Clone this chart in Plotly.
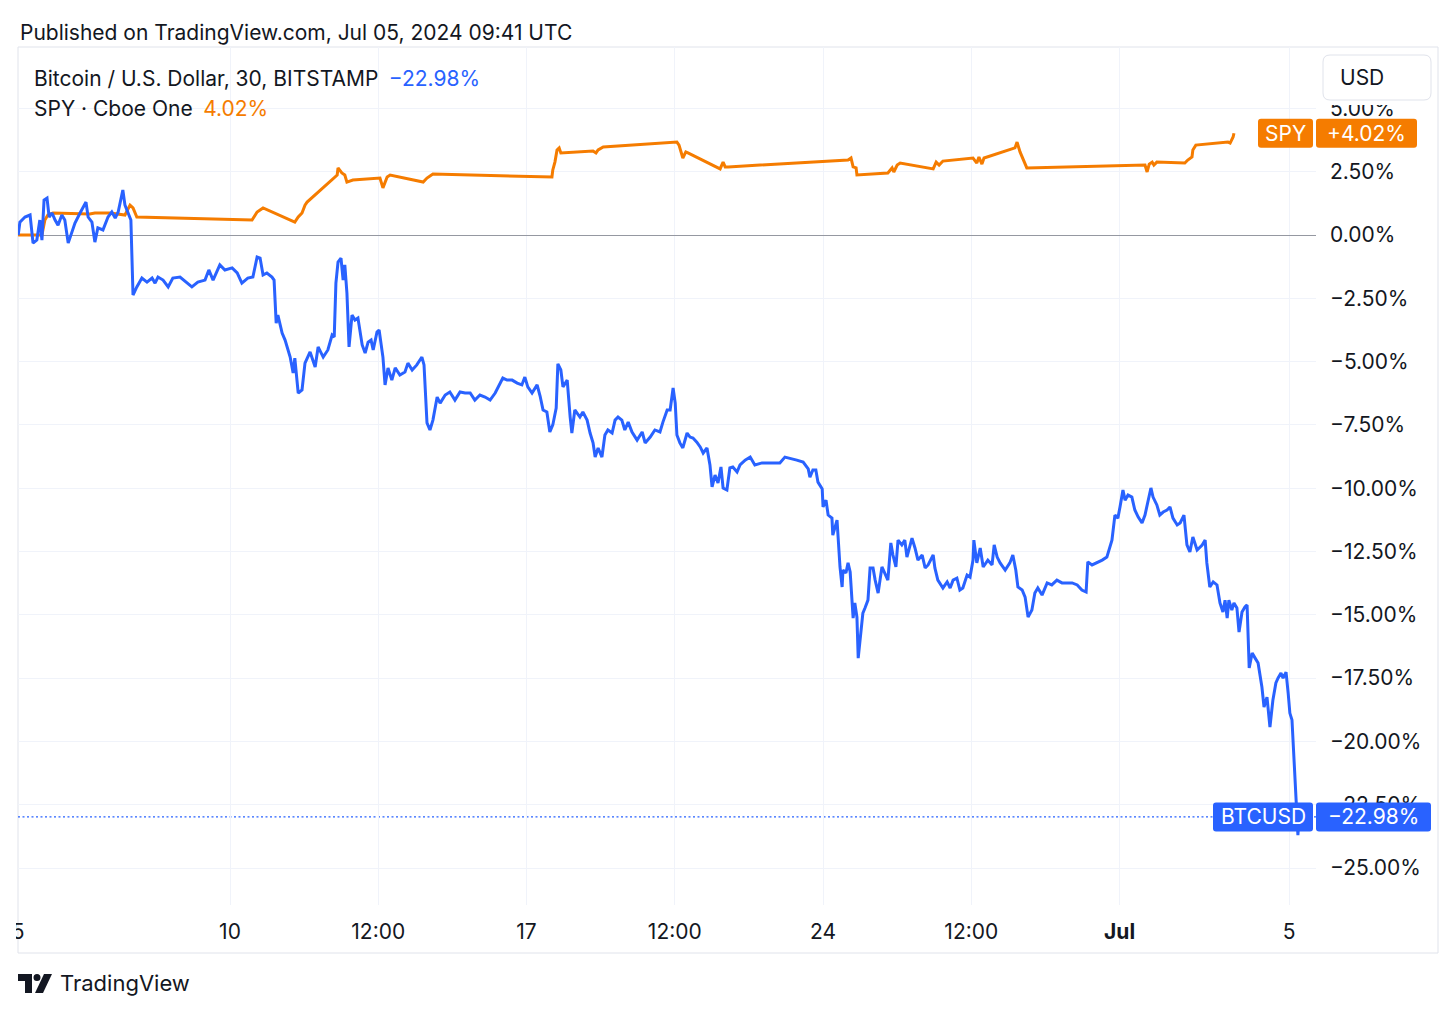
import plotly.graph_objects as go
from datetime import datetime, timedelta

# ---------------- data (time in days since 2024-06-05 00:00 UTC, value in % change) ----------------
BASE = datetime(2024, 6, 5)

btc_days = [0.00, 0.04, 0.16, 0.28, 0.35, 0.44, 0.51, 0.56, 0.61, 0.68, 0.73, 0.80, 0.87, 0.94, 1.03, 1.10,
            1.18, 1.34, 1.46, 1.60, 1.65, 1.74, 1.81, 1.88, 2.00, 2.12, 2.21, 2.29, 2.36, 2.47, 2.52, 2.59,
            2.66, 2.71, 2.80, 2.92, 3.04, 3.16, 3.23, 3.30, 3.42, 3.54, 3.65, 3.82, 3.98, 4.10, 4.24, 4.41,
            4.50, 4.60, 4.76, 4.88, 5.05, 5.17, 5.28, 5.42, 5.54, 5.64, 5.71, 5.78, 5.87, 5.99, 6.04, 6.09,
            6.13, 6.23, 6.30, 6.42, 6.49, 6.53, 6.61, 6.70, 6.77, 6.89, 7.01, 7.08, 7.20, 7.31, 7.41, 7.46,
            7.50, 7.55, 7.62, 7.67, 7.71, 7.76, 7.81, 7.88, 7.95, 8.02, 8.12, 8.19, 8.26, 8.33, 8.38, 8.47,
            8.52, 8.61, 8.66, 8.73, 8.82, 8.90, 9.01, 9.13, 9.20, 9.30, 9.41, 9.53, 9.58, 9.65, 9.72, 9.79,
            9.89, 9.96, 10.08, 10.19, 10.31, 10.43, 10.55, 10.67, 10.78, 10.90, 11.02, 11.14, 11.26, 11.37,
            11.44, 11.54, 11.66, 11.78, 11.89, 11.96, 12.03, 12.13, 12.25, 12.32, 12.39, 12.48, 12.55, 12.62,
            12.70, 12.74, 12.81, 12.86, 12.96, 13.03, 13.07, 13.14, 13.19, 13.26, 13.33, 13.43, 13.50, 13.57,
            13.62, 13.69, 13.78, 13.85, 13.92, 14.02, 14.09, 14.16, 14.25, 14.32, 14.40, 14.49, 14.61, 14.73,
            14.80, 14.92, 15.03, 15.15, 15.22, 15.32, 15.39, 15.43, 15.46, 15.51, 15.55, 15.62, 15.69, 15.79,
            15.86, 15.93, 16.02, 16.10, 16.17, 16.26, 16.33, 16.38, 16.45, 16.52, 16.59, 16.64, 16.73, 16.80,
            16.87, 16.97, 17.04, 17.16, 17.28, 17.39, 17.56, 17.75, 17.98, 18.10, 18.22, 18.38, 18.53, 18.65,
            18.69, 18.76, 18.83, 18.88, 18.98, 19.00, 19.07, 19.12, 19.21, 19.23, 19.33, 19.35, 19.40, 19.45,
            19.47, 19.54, 19.59, 19.64, 19.68, 19.71, 19.75, 19.80, 19.83, 19.90, 19.94, 19.99, 20.06, 20.11,
            20.18, 20.23, 20.30, 20.39, 20.46, 20.53, 20.60, 20.65, 20.72, 20.77, 20.86, 20.93, 20.98, 21.05,
            21.10, 21.17, 21.24, 21.34, 21.41, 21.48, 21.60, 21.64, 21.71, 21.83, 21.93, 22.00, 22.07, 22.16,
            22.23, 22.30, 22.40, 22.47, 22.54, 22.56, 22.63, 22.71, 22.78, 22.89, 22.99, 23.04, 23.11, 23.18,
            23.30, 23.41, 23.48, 23.55, 23.60, 23.70, 23.77, 23.84, 23.93, 24.00, 24.07, 24.17, 24.29, 24.40,
            24.52, 24.64, 24.76, 24.88, 25.00, 25.11, 25.21, 25.25, 25.35, 25.47, 25.59, 25.70, 25.77, 25.82,
            25.89, 25.96, 26.01, 26.08, 26.13, 26.20, 26.29, 26.36, 26.44, 26.53, 26.60, 26.67, 26.74, 26.79,
            26.88, 26.95, 27.03, 27.12, 27.19, 27.26, 27.36, 27.43, 27.52, 27.59, 27.66, 27.73, 27.83, 27.95,
            28.02, 28.06, 28.13, 28.21, 28.30, 28.37, 28.44, 28.49, 28.54, 28.58, 28.65, 28.70, 28.77, 28.82,
            28.89, 28.96, 29.01, 29.06, 29.13, 29.20, 29.27, 29.36, 29.41, 29.48, 29.55, 29.62, 29.69, 29.74,
            29.81, 29.86, 29.93, 29.98, 30.02, 30.07, 30.14, 30.19, 30.21, 30.24]

btc_pct = [0.00, 0.51, 0.71, 0.79, -0.32, -0.20, 0.59, -0.20, 1.38, 1.46, 0.71, 0.87, 0.59, 0.39, 0.79, 0.59,
           -0.32, 0.47, 0.87, 1.30, 0.71, 0.51, -0.28, 0.28, 0.20, 0.71, 0.91, 0.67, 0.91, 1.78, 1.18, 0.91,
           0.59, -2.37, -2.05, -1.70, -1.86, -1.70, -1.90, -1.66, -1.78, -2.05, -1.70, -1.66, -1.90, -2.05, -1.86, -1.78,
           -1.38, -1.78, -1.18, -1.38, -1.30, -1.50, -1.90, -1.70, -1.66, -0.87, -0.91, -1.58, -1.50, -1.66, -1.78, -3.48,
           -3.16, -3.87, -4.15, -4.82, -5.45, -4.86, -6.24, -6.12, -5.06, -4.62, -5.21, -4.42, -4.82, -4.54, -3.95, -4.03,
           -1.90, -1.07, -0.91, -1.78, -1.18, -2.29, -4.42, -3.16, -3.36, -3.28, -4.34, -4.66, -4.23, -4.15, -4.54, -3.83,
           -3.75, -4.82, -5.92, -5.25, -5.73, -5.25, -5.53, -5.41, -5.06, -5.33, -5.13, -4.82, -5.13, -7.42, -7.70, -7.31,
           -6.40, -6.64, -6.32, -6.20, -6.52, -6.20, -6.24, -6.24, -6.52, -6.32, -6.40, -6.52, -6.24, -5.85,
           -5.65, -5.73, -5.73, -5.85, -5.92, -5.61, -6.00, -6.24, -5.92, -6.36, -6.91, -6.99, -7.78, -7.50,
           -6.83, -5.09, -5.33, -6.00, -5.73, -7.19, -7.82, -6.91, -7.03, -7.19, -6.99, -7.31, -7.82, -8.21,
           -8.77, -8.41, -8.77, -7.90, -7.70, -7.82, -7.31, -7.19, -7.31, -7.70, -7.39, -7.78, -8.10, -7.78,
           -8.21, -7.98, -7.70, -7.78, -7.39, -6.91, -6.91, -6.40, -6.04, -6.64, -7.90, -8.21, -8.41, -7.82,
           -7.98, -8.02, -8.18, -8.37, -8.61, -8.41, -9.08, -9.95, -9.48, -9.79, -9.16, -9.99, -10.07, -9.20,
           -9.16, -9.36, -9.08, -8.89, -8.77, -9.08, -9.00, -9.00, -9.00, -8.77, -8.81, -8.89, -8.97, -9.24,
           -9.56, -9.28, -9.28, -9.76, -10.03, -10.74, -10.47, -11.06, -11.18, -11.85, -11.26, -11.93, -13.11, -13.90,
           -13.23, -13.35, -12.95, -13.31, -14.42, -15.13, -14.53, -15.09, -16.71, -15.40, -14.93, -14.73, -14.42, -13.15,
           -13.15, -13.63, -14.14, -13.11, -13.35, -13.63, -12.16, -12.64, -13.11, -12.05, -12.24, -12.05, -12.72, -12.24,
           -11.97, -12.36, -12.84, -12.64, -13.15, -13.03, -12.64, -13.15, -13.63, -13.94, -13.70, -13.94, -13.63, -13.55,
           -14.02, -13.94, -13.43, -13.51, -12.84, -12.05, -12.95, -12.36, -13.11, -12.84, -13.03, -12.24, -12.72, -12.95,
           -13.23, -12.95, -12.64, -13.23, -13.90, -14.02, -14.30, -15.09, -14.81, -14.14, -13.94, -14.22, -13.74, -13.82,
           -13.63, -13.74, -13.74, -13.74, -13.82, -14.02, -14.10, -12.91, -13.03, -12.95, -12.84, -12.72, -12.32, -12.05,
           -11.06, -11.18, -10.74, -10.07, -10.47, -10.27, -10.35, -10.86, -11.14, -11.37, -11.06, -10.58, -9.99, -10.35,
           -10.66, -11.06, -10.94, -10.86, -10.74, -11.18, -11.45, -11.37, -11.06, -12.24, -12.52, -11.93, -12.44, -12.24,
           -12.05, -12.95, -13.90, -13.70, -13.82, -14.53, -14.89, -14.42, -15.13, -14.42, -14.81, -14.53, -14.73, -15.68,
           -14.89, -14.69, -14.61, -17.10, -16.51, -16.71, -16.90, -17.85, -18.64, -18.25, -19.43, -18.36, -17.69, -17.50,
           -17.30, -17.50, -17.26, -18.09, -18.88, -19.15, -21.52, -22.83, -23.70, -22.98]

spy_days = [0.00, 0.56, 0.63, 0.70, 0.82, 1.69, 1.81, 2.17, 2.52, 2.64, 2.71, 2.80, 5.52, 5.64, 5.71, 5.78,
            6.53, 6.61, 6.70, 6.77, 6.82, 7.53, 7.55, 7.64, 7.71, 7.76, 7.90, 8.54, 8.61, 8.71, 8.78, 9.56,
            9.65, 9.79, 12.60, 12.62, 12.67, 12.72, 12.77, 12.81, 13.57, 13.64, 13.69, 13.81, 15.55, 15.60,
            15.69, 15.76, 15.81, 16.57, 16.64, 16.69, 16.76, 19.59, 19.66, 19.71, 19.78, 19.80, 20.53, 20.63,
            20.67, 20.75, 20.82, 21.60, 21.67, 21.74, 21.83, 22.54, 22.63, 22.68, 22.75, 22.80, 23.53, 23.58,
            23.65, 23.81, 26.60, 26.65, 26.70, 26.77, 26.81, 26.88, 27.54, 27.61, 27.71, 27.73, 27.80, 28.56,
            28.61, 28.68, 28.70]

spy_pct = [0.00, 0.00, 0.59, 0.79, 0.87, 0.83, 0.87, 0.87, 0.79, 1.18, 1.07, 0.71, 0.59, 0.91, 0.99, 1.07,
           0.51, 0.71, 0.87, 1.18, 1.30, 2.37, 2.65, 2.45, 2.37, 2.09, 2.17, 2.25, 1.86, 2.29, 2.37, 2.09,
           2.25, 2.41, 2.29, 2.57, 2.88, 3.36, 3.44, 3.24, 3.32, 3.24, 3.36, 3.48, 3.67, 3.55,
           3.04, 3.28, 3.24, 2.61, 2.88, 2.69, 2.69, 2.96, 3.04, 2.69, 2.65, 2.37, 2.45, 2.65,
           2.49, 2.76, 2.84, 2.61, 2.88, 2.76, 2.92, 3.04, 2.84, 3.08, 2.80, 3.04, 3.44, 3.67,
           3.28, 2.65, 2.76, 2.49, 2.80, 2.88, 2.76, 2.88, 2.84, 2.96, 3.08, 3.36, 3.55, 3.67,
           3.63, 3.87, 4.02]

x_tick_days = [0, 5, 8.5, 12, 15.5, 19, 22.5, 26, 30]
x_tick_text = ["5", "10", "12:00", "17", "12:00", "24", "12:00", "<b>Jul</b>", "5"]
y_tick_vals = [-25.0, -22.5, -20.0, -17.5, -15.0, -12.5, -10.0, -7.5, -5.0, -2.5, 0.0, 2.5, 5.0]
x_range_days = [-0.005, 30.637]
y_range = [-26.46, 7.425]

btc_name = "Bitcoin / U.S. Dollar, 30, BITSTAMP"
spy_name = "SPY \u00b7 Cboe One"
header = "Published on TradingView.com, Jul 05, 2024 09:41 UTC"

# ---------------- styling ----------------
BLUE = "#2962ff"
ORANGE = "#f57c00"
TXT = "#131722"
GRID = "#f0f3fa"
FRAME = "#e0e3eb"
FONT = "Inter, Roboto, sans-serif"
FS = 21
W, H = 1456, 1016
ML, MR, MT, MB = 18, 140, 47, 111


def to_dt(d):
    return BASE + timedelta(days=d)


def fmt_pct(v, sign=False):
    s = f"{v:+.2f}%" if sign else f"{v:.2f}%"
    return s.replace("-", "\u2212")


btc_x = [to_dt(d) for d in btc_days]
spy_x = [to_dt(d) for d in spy_days]

fig = go.Figure()
fig.add_trace(go.Scatter(x=spy_x, y=spy_pct, mode="lines", line=dict(color=ORANGE, width=3),
                         hoverinfo="skip", showlegend=False))
fig.add_trace(go.Scatter(x=btc_x, y=btc_pct, mode="lines", line=dict(color=BLUE, width=3),
                         hoverinfo="skip", showlegend=False))

btc_last = btc_pct[-1]
spy_last = spy_pct[-1]

shapes = []
# outer frame
shapes.append(dict(type="rect", xref="paper", yref="paper", xsizemode="pixel", ysizemode="pixel",
                   xanchor=0, yanchor=1, x0=0, x1=1420, y0=0, y1=-906,
                   line=dict(color=FRAME, width=1), fillcolor="rgba(0,0,0,0)", layer="below"))
# dotted last-value line for BTC
shapes.append(dict(type="line", xref="paper", yref="y", x0=0, x1=1, y0=btc_last, y1=btc_last,
                   line=dict(color=BLUE, width=1.3, dash="2px,2.5px"), layer="below"))
# hide left half of the first x tick label
shapes.append(dict(type="rect", xref="paper", yref="paper", xsizemode="pixel", ysizemode="pixel",
                   xanchor=0, yanchor=0, x0=-18, x1=-2, y0=-2, y1=-46,
                   line=dict(width=0), fillcolor="white", layer="above"))


def rrect(x0, x1, y0, y1, r=3):
    # rounded rectangle path in pixel units (y up)
    return (f"M{x0 + r},{y1} L{x1 - r},{y1} Q{x1},{y1} {x1},{y1 - r} L{x1},{y0 + r} Q{x1},{y0} {x1 - r},{y0} "
            f"L{x0 + r},{y0} Q{x0},{y0} {x0},{y0 + r} L{x0},{y1 - r} Q{x0},{y1} {x0 + r},{y1} Z")


def tag(yval, color, name_w, val_w, name, val, h=29):
    s = []
    s.append(dict(type="path", xref="paper", yref="y", xsizemode="pixel", ysizemode="pixel",
                  xanchor=1, yanchor=yval, path=rrect(-3 - name_w, -3, -h / 2, h / 2),
                  fillcolor=color, line=dict(width=0), layer="above"))
    s.append(dict(type="path", xref="paper", yref="y", xsizemode="pixel", ysizemode="pixel",
                  xanchor=1, yanchor=yval, path=rrect(0, val_w, -h / 2, h / 2),
                  fillcolor=color, line=dict(width=0), layer="above"))
    a = [dict(xref="paper", yref="y", x=1, y=yval, xshift=-3 - name_w / 2, text=name, showarrow=False,
              font=dict(family=FONT, size=FS, color="white"), xanchor="center", yanchor="middle"),
         dict(xref="paper", yref="y", x=1, y=yval, xshift=val_w / 2, text=val, showarrow=False,
              font=dict(family=FONT, size=FS, color="white"), xanchor="center", yanchor="middle")]
    return s, a


annotations = []
s1, a1 = tag(btc_last, BLUE, 100, 115, "BTCUSD", fmt_pct(btc_last))
s2, a2 = tag(spy_last, ORANGE, 55, 101, "SPY", fmt_pct(spy_last, sign=True))
shapes += s1 + s2

# USD button (with a white backing that masks the top of the 5.00% label, as in the source)
shapes.append(dict(type="rect", xref="paper", yref="paper", xsizemode="pixel", ysizemode="pixel",
                   xanchor=1, yanchor=1, x0=4, x1=119, y0=-4, y1=-58,
                   fillcolor="white", line=dict(width=0), layer="above"))
shapes.append(dict(type="path", xref="paper", yref="paper", xsizemode="pixel", ysizemode="pixel",
                   xanchor=1, yanchor=1, path=rrect(7, 115, -53, -8, r=7),
                   fillcolor="white", line=dict(color=FRAME, width=1), layer="above"))
annotations.append(dict(xref="paper", yref="paper", x=1, y=1, xshift=22, yshift=-30, text="USD",
                        showarrow=False, xanchor="left", yanchor="middle",
                        font=dict(family=FONT, size=FS, color=TXT)))

annotations += a1 + a2

# header and legend
annotations.append(dict(xref="paper", yref="paper", x=0, y=1, yshift=15, text=header, showarrow=False,
                        xanchor="left", yanchor="middle", font=dict(family=FONT, size=FS, color=TXT)))
annotations.append(dict(xref="paper", yref="paper", x=0, y=1, xshift=14, yshift=-31,
                        text=f"{btc_name}\u2002<span style='color:{BLUE}'>{fmt_pct(btc_last)}</span>",
                        showarrow=False, xanchor="left", yanchor="middle",
                        font=dict(family=FONT, size=FS, color=TXT)))
annotations.append(dict(xref="paper", yref="paper", x=0, y=1, xshift=14, yshift=-61,
                        text=f"{spy_name}\u2002<span style='color:{ORANGE}'>{fmt_pct(spy_last)}</span>",
                        showarrow=False, xanchor="left", yanchor="middle",
                        font=dict(family=FONT, size=FS, color=TXT)))

# TradingView footer
shapes.append(dict(type="path", xref="paper", yref="paper", xsizemode="pixel", ysizemode="pixel",
                   xanchor=0, yanchor=0, path="M0,-69 L14,-69 L14,-88 L7,-88 L7,-76 L0,-76 Z",
                   fillcolor=TXT, line=dict(width=0), layer="above"))
shapes.append(dict(type="circle", xref="paper", yref="paper", xsizemode="pixel", ysizemode="pixel",
                   xanchor=0, yanchor=0, x0=15.5, x1=22.5, y0=-69, y1=-76,
                   fillcolor=TXT, line=dict(width=0), layer="above"))
shapes.append(dict(type="path", xref="paper", yref="paper", xsizemode="pixel", ysizemode="pixel",
                   xanchor=0, yanchor=0, path="M26,-69 L34,-69 L25,-88 L17,-88 Z",
                   fillcolor=TXT, line=dict(width=0), layer="above"))
annotations.append(dict(xref="paper", yref="paper", x=0, y=0, xshift=40, yshift=-78, text="TradingView",
                        showarrow=False, xanchor="left", yanchor="middle",
                        font=dict(family=FONT, size=22, color=TXT)))

fig.update_layout(
    width=W, height=H,
    margin=dict(l=ML, r=MR, t=MT, b=MB, pad=0),
    paper_bgcolor="white", plot_bgcolor="white",
    showlegend=False,
    hovermode=False,
    shapes=shapes,
    annotations=annotations,
    xaxis=dict(type="date", range=[to_dt(x_range_days[0]), to_dt(x_range_days[1])],
               tickmode="array", tickvals=[to_dt(d) for d in x_tick_days], ticktext=x_tick_text,
               showgrid=True, gridcolor=GRID, gridwidth=1, zeroline=False, showline=False,
               ticks="", ticklabelstandoff=12, tickfont=dict(family=FONT, size=FS, color=TXT),
               fixedrange=True),
    yaxis=dict(side="right", range=y_range, tickmode="array", tickvals=y_tick_vals,
               ticktext=[fmt_pct(v) for v in y_tick_vals], showgrid=True, gridcolor=GRID, gridwidth=1,
               zeroline=True, zerolinecolor="#9598a1", zerolinewidth=1, showline=False,
               ticks="", ticklabelstandoff=13, tickfont=dict(family=FONT, size=FS, color=TXT),
               fixedrange=True),
)

fig.write_html("out.html")
